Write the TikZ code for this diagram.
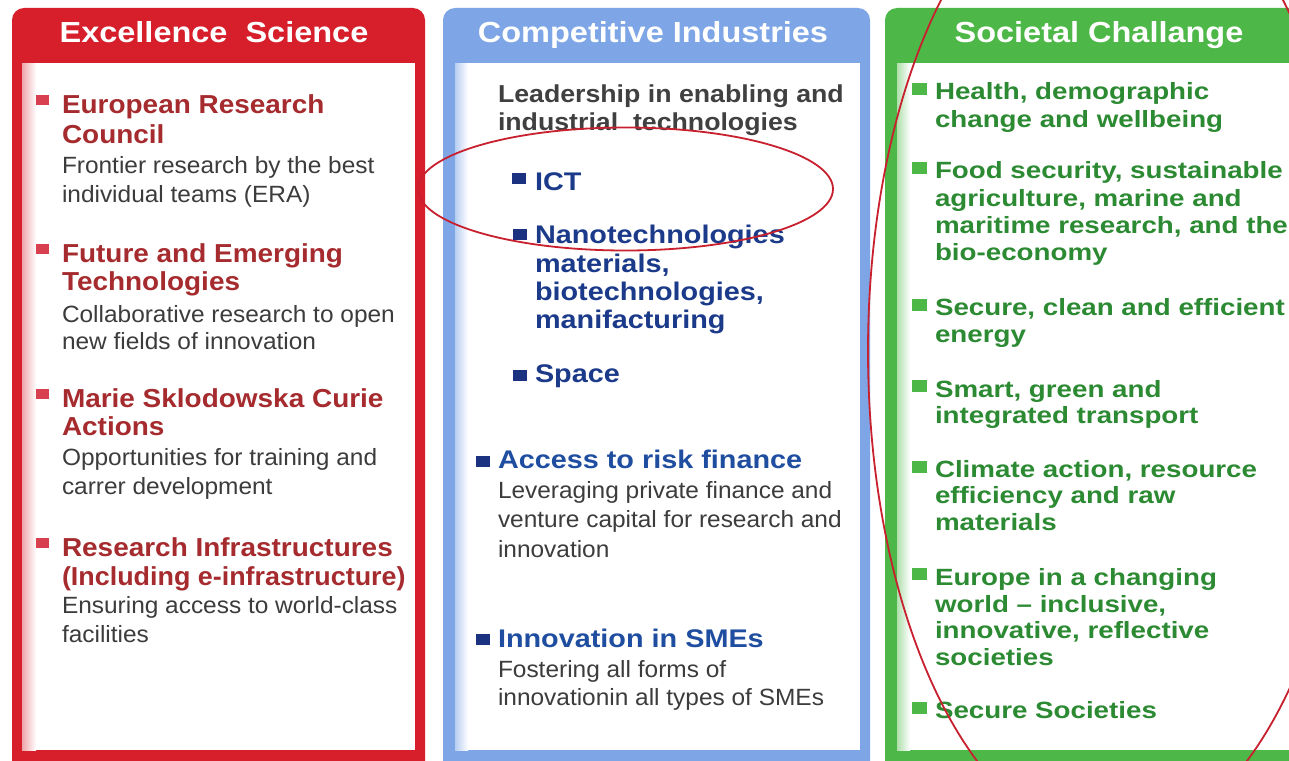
\documentclass[tikz,border=0pt]{standalone}
\usepackage{fontspec}
\setmainfont{Liberation Sans}
\newfontfamily\hdfont{Liberation Sans}[FakeStretch=1.12]
\newfontfamily\ttlfont{Liberation Sans}[FakeStretch=1.13]
\newfontfamily\redfont{Liberation Sans}[FakeStretch=1.075]
\newfontfamily\dscfont{Liberation Sans}[FakeStretch=1.04]
\newfontfamily\grnfont{Liberation Sans}[FakeStretch=1.18]
\newfontfamily\ldfont{Liberation Sans}[FakeStretch=1.09]
\usetikzlibrary{shapes.geometric}
\definecolor{redframe}{HTML}{D71E2B}
\definecolor{redtext}{HTML}{A62B2E}
\definecolor{redbul}{HTML}{D9404F}
\definecolor{blueframe}{HTML}{7EA6E6}
\definecolor{navytext}{HTML}{1B3A8A}
\definecolor{bluetext}{HTML}{1F4DA0}
\definecolor{bluebul}{HTML}{1A3280}
\definecolor{greenframe}{HTML}{4DB848}
\definecolor{greentext}{HTML}{2C8A33}
\definecolor{desctext}{HTML}{3C3C3C}
\definecolor{leadtext}{HTML}{404040}
\definecolor{ringred}{HTML}{C8202E}
\begin{document}
\begin{tikzpicture}[x=1pt,y=-1pt,
  txt/.style={anchor=base west, inner sep=0pt, outer sep=0pt},
  hdr/.style={anchor=base, inner sep=0pt, text=white, font=\hdfont\bfseries\fontsize{29}{34}\selectfont},
  redttl/.style={txt, text=redtext, font=\redfont\bfseries\fontsize{26}{30}\selectfont},
  desc/.style={txt, text=desctext, font=\dscfont\fontsize{23.5}{28}\selectfont},
  leadttl/.style={txt, text=leadtext, font=\ldfont\bfseries\fontsize{24.5}{29}\selectfont},
  navyttl/.style={txt, text=navytext, font=\ttlfont\bfseries\fontsize{25.5}{30}\selectfont},
  bluettl/.style={txt, text=bluetext, font=\ttlfont\bfseries\fontsize{25.5}{30}\selectfont},
  grnttl/.style={txt, text=greentext, font=\grnfont\bfseries\fontsize{23.5}{28}\selectfont},
  bulbox/.style={rectangle, inner sep=0pt, outer sep=0pt, minimum width=13pt, minimum height=10pt},
  rbul/.style={bulbox, fill=redbul},
  bbul/.style={bulbox, fill=bluebul, minimum width=14pt, minimum height=11pt},
  gbul/.style={bulbox, fill=greenframe, minimum width=15pt, minimum height=12pt},
  ring/.style={ellipse, draw=ringred, line width=1.8pt, inner sep=0pt},
]
\useasboundingbox (0,0) rectangle (1289,760);
\clip (0,0) rectangle (1289,760);
\fill[white] (0,0) rectangle (1289,760);

% ---------- columns ----------
\fill[redframe, rounded corners=12pt] (12,8) rectangle (425,790);
\fill[white] (22,63) rectangle (415,750);
\shade[left color=redframe!40, right color=white] (22,63) rectangle (36,750);

\fill[blueframe, rounded corners=12pt] (443,8) rectangle (870,790);
\fill[white] (455,63) rectangle (860,750);
\shade[left color=blueframe!55, right color=white] (455,63) rectangle (468,750);

\fill[greenframe, rounded corners=12pt] (885,8) rectangle (1313,790);
\fill[white] (897,63) rectangle (1303,750);
\shade[left color=greenframe!45, right color=white] (897,63) rectangle (910,750);

% ---------- headers ----------
\node[hdr] (hred) at (214,43) {Excellence\ \ Science};
\node[hdr] (hblue) at (653,42) {Competitive Industries};
\node[hdr] (hgreen) at (1099,43) {Societal Challange};

% ---------- red column ----------
\node[rbul] (rb1) at (42,100) {};
\node[redttl] (erc1) at (62,113) {European Research};
\node[redttl] (erc2) at (62,143) {Council};
\node[desc] (ercd1) at (62,173) {Frontier research by the best};
\node[desc] (ercd2) at (62,202) {individual teams (ERA)};

\node[rbul] (rb2) at (42,249) {};
\node[redttl] (fet1) at (62,262) {Future and Emerging};
\node[redttl] (fet2) at (62,290) {Technologies};
\node[desc] (fetd1) at (62,322) {Collaborative research to open};
\node[desc] (fetd2) at (62,349) {new fields of innovation};

\node[rbul] (rb3) at (42,394) {};
\node[redttl] (msc1) at (62,407) {Marie Sklodowska Curie};
\node[redttl] (msc2) at (62,435) {Actions};
\node[desc] (mscd1) at (62,465) {Opportunities for training and};
\node[desc] (mscd2) at (62,494) {carrer development};

\node[rbul] (rb4) at (42,543) {};
\node[redttl] (ri1) at (62,556) {Research Infrastructures};
\node[redttl] (ri2) at (62,585) {\scalebox{0.962}[1]{(Including e-infrastructure)}};
\node[desc] (rid1) at (62,613) {Ensuring access to world-class};
\node[desc] (rid2) at (62,642) {facilities};

% ---------- blue column ----------
\node[leadttl] (lead1) at (498,102) {Leadership in enabling and};
\node[leadttl] (lead2) at (498,130) {industrial\ \ technologies};

\node[bbul] (bb1) at (519,178) {};
\node[navyttl] (ict) at (535,190) {ICT};

\node[bbul] (bb2) at (520,234) {};
\node[navyttl] (nano1) at (535,243) {Nanotechnologies};
\node[navyttl] (nano2) at (535,272) {materials,};
\node[navyttl] (nano3) at (535,300) {biotechnologies,};
\node[navyttl] (nano4) at (535,328) {manifacturing};

\node[bbul] (bb3) at (520,375) {};
\node[navyttl] (space) at (535,382) {Space};

\node[bbul] (bb4) at (483,461) {};
\node[bluettl] (arf) at (498,468) {Access to risk finance};
\node[desc] (arfd1) at (498,498) {Leveraging private finance and};
\node[desc] (arfd2) at (498,527) {venture capital for research and};
\node[desc] (arfd3) at (498,557) {innovation};

\node[bbul] (bb5) at (483,639) {};
\node[bluettl] (sme) at (498,647) {Innovation in SMEs};
\node[desc] (smed1) at (498,677) {Fostering all forms of};
\node[desc] (smed2) at (498,705) {innovationin all types of SMEs};

% ---------- green column ----------
\node[gbul] (gb1) at (919.5,89) {};
\node[grnttl] (g11) at (935,99) {Health, demographic};
\node[grnttl] (g12) at (935,127) {change and wellbeing};

\node[gbul] (gb2) at (919.5,168) {};
\node[grnttl] (g21) at (935,178) {Food security, sustainable};
\node[grnttl] (g22) at (935,206) {agriculture, marine and};
\node[grnttl] (g23) at (935,233) {maritime research, and the};
\node[grnttl] (g24) at (935,260) {bio-economy};

\node[gbul] (gb3) at (919.5,305) {};
\node[grnttl] (g31) at (935,315) {Secure, clean and efficient};
\node[grnttl] (g32) at (935,342) {energy};

\node[gbul] (gb4) at (919.5,386) {};
\node[grnttl] (g41) at (935,397) {Smart, green and};
\node[grnttl] (g42) at (935,423) {integrated transport};

\node[gbul] (gb5) at (919.5,467) {};
\node[grnttl] (g51) at (935,477) {Climate action, resource};
\node[grnttl] (g52) at (935,503) {efficiency and raw};
\node[grnttl] (g53) at (935,530) {materials};

\node[gbul] (gb6) at (919.5,574) {};
\node[grnttl] (g61) at (935,585) {Europe in a changing};
\node[grnttl] (g62) at (935,612) {world – inclusive,};
\node[grnttl] (g63) at (935,638) {innovative, reflective};
\node[grnttl] (g64) at (935,665) {societies};

\node[gbul] (gb7) at (919.5,708) {};
\node[grnttl] (g71) at (935,718) {Secure Societies};

% ---------- highlight rings ----------
\node[ring, minimum width=415pt, minimum height=123pt] (ictring) at (625.5,189) {};
\node[ring, minimum width=488pt, minimum height=984pt] (greenring) at (1112,351) {};
\end{tikzpicture}
\end{document}
